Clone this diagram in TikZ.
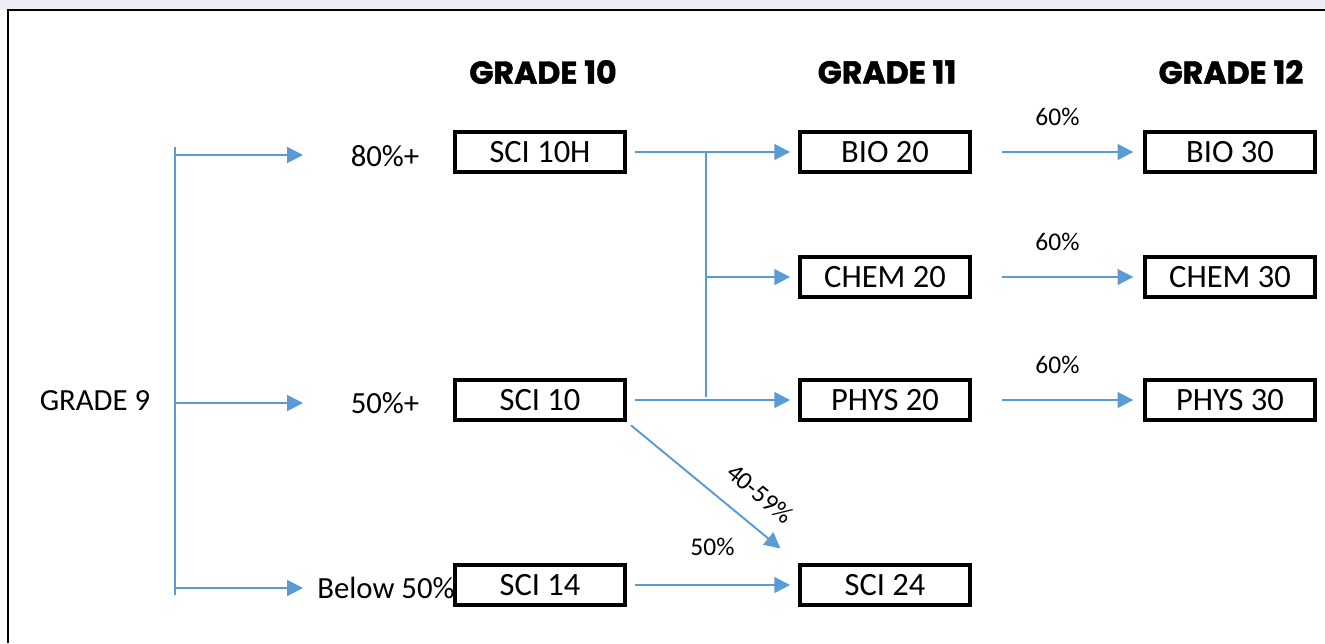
\documentclass[tikz,border=0pt]{standalone}
\usepackage{fontspec}
\setmainfont{Carlito}
\newfontfamily\headfont{Poppins}[BoldFeatures={FakeBold=1.5}]
\usetikzlibrary {arrows.meta, positioning, calc}
\definecolor{flowblue}{RGB}{91,155,213}
\definecolor{bandgray}{RGB}{236,237,247}
\tikzset{
    >={Triangle[length=9pt, width=9pt]},
    course/.style={draw, line width=2.3pt, minimum width=3.4cm, minimum height=0.8cm,
        inner sep=0pt, font=\fontsize{18.5}{22}\selectfont},
    heading/.style={font=\headfont\bfseries\fontsize{18}{21}\selectfont},
    txt/.style={font=\fontsize{17.5}{21}\selectfont},
    small/.style={font=\fontsize{14.5}{17}\selectfont},
    wire/.style={draw=flowblue, line width=1.1pt},
    flow/.style={wire, ->},
    gap/.style={shorten >=4.5pt, shorten <=4.5pt}
}
\begin{document}
\begin{tikzpicture}[x=0.02cm, y=-0.02cm]
    \useasboundingbox (0,0) rectangle (1325,643);
    % top band and frame
    \fill [bandgray] (0,0) rectangle (1325,10);
    \draw [line width=1.7pt] (8,643) -- (8,10) -- (1325,10);
    % headings
    \node [heading] (h10) at (543,72) {GRADE 10};
    \node [heading] (h11) at (887,72) {GRADE 11};
    \node [heading] (h12) at (1231,72) {GRADE 12};
    % grade 9 side
    \node [txt] (g9) at (95,401) {GRADE 9};
    \node [txt] (p80) at (385,156) {80\%+};
    \node [txt] (p50) at (385,403) {50\%+};
    \node [txt] (p0) at (386,588) {Below 50\%};
    \coordinate (top9) at (175,147);
    \coordinate (bot9) at (175,595);
    \draw [wire] (top9) -- (bot9);
    \foreach \n/\y in {80/155, 50/403, 0/588} {
        \coordinate (s\n) at (175,\y);
        \coordinate (e\n) at (303,\y);
        \draw [flow] (s\n) -- (e\n);
    }
    % courses
    \node [course] (sci10h) at (540,152) {SCI 10H};
    \node [course] (sci10) at (540,400) {SCI 10};
    \node [course] (sci14) at (540,585) {SCI 14};
    \node [course] (bio20) at (885,152) {BIO 20};
    \node [course] (chem20) at (885,277) {CHEM 20};
    \node [course] (phys20) at (885,400) {PHYS 20};
    \node [course] (sci24) at (885,585) {SCI 24};
    \node [course] (bio30) at (1230,152) {BIO 30};
    \node [course] (chem30) at (1230,277) {CHEM 30};
    \node [course] (phys30) at (1230,400) {PHYS 30};
    % grade 10 to grade 11
    \coordinate (jt) at (706,152);
    \coordinate (jb) at (706,397);
    \draw [flow, gap] (sci10h) -- (bio20);
    \draw [wire] (jt) -- (jb);
    \draw [flow, shorten >=4.5pt] (jt |- chem20) -- (chem20);
    \draw [flow, gap] (sci10) -- (phys20);
    \draw [flow, shorten <=3pt, shorten >=13pt] (sci10.south east)
        -- node [small, sloped, above=8pt, pos=0.67] {40-59\%} (sci24.north west);
    \draw [flow, gap] (sci14) -- node [small, above=13pt] {50\%} (sci24);
    % grade 11 to grade 12
    \foreach \a/\b in {bio20/bio30, chem20/chem30, phys20/phys30} {
        \draw [flow, shorten <=17pt, shorten >=5.5pt] (\a) -- node [small, above=11pt] {60\%} (\b);
    }
\end{tikzpicture}
\end{document}
